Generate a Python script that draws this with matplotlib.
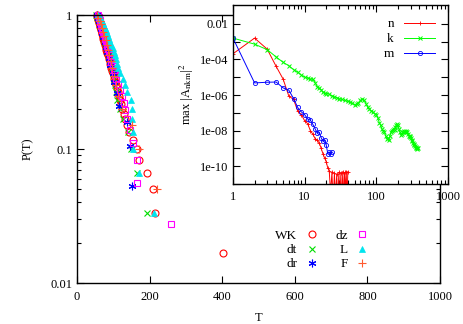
import matplotlib
matplotlib.use('Agg')
import matplotlib.pyplot as plt
import numpy as np
from matplotlib.ticker import FixedLocator, NullFormatter, FixedFormatter, LogLocator

plt.rcParams['font.family'] = ['Liberation Serif', 'DejaVu Serif']
plt.rcParams['mathtext.fontset'] = 'stix'
plt.rcParams['font.size'] = 9

# ---------------- main panel data: event durations T (sorted) ----------------
T_WK = [55, 56, 57, 57, 58, 59, 60, 60, 61, 62, 63, 64, 65, 66, 67, 68, 69, 70, 71, 72,
        73, 74, 75, 76, 77, 79, 80, 81, 82, 84, 85, 87, 88, 90, 91, 93, 95, 97, 99, 101,
        103, 105, 107, 110, 112, 115, 118, 121, 125, 129, 133, 137, 143, 155, 166, 170,
        193, 210, 214, 401]
T_dt = [52, 55, 57, 60, 62, 64, 66, 69, 71, 73, 75, 78, 80, 83, 86, 88, 91, 94, 97, 100,
        102, 105, 108, 109, 118, 127, 141, 150, 165, 194]
T_dr = [54, 57, 60, 63, 66, 69, 72, 76, 80, 84, 87, 92, 98, 103, 109, 115, 138, 147, 151]
T_dz = [58, 60, 61, 63, 64, 66, 67, 69, 70, 72, 74, 76, 78, 80, 82, 84, 86, 88, 90, 93,
        95, 98, 101, 104, 108, 113, 118, 124, 130, 133, 137, 146, 153, 164, 165, 258]
T_L = [58, 62, 65, 68, 71, 74, 77, 80, 83, 86, 89, 92, 95, 98, 101, 104, 107, 110, 114,
       118, 127, 133, 139, 148, 151, 152, 154, 155, 171, 211]
T_F = [56, 59, 62, 65, 68, 72, 75, 79, 82, 86, 89, 93, 97, 102, 107, 114, 123, 151, 171, 221]

series_names = ['WK', 'dt', 'dr', 'dz', 'L', 'F']
series_T = [T_WK, T_dt, T_dr, T_dz, T_L, T_F]

# ---------------- inset data ----------------
n_x = list(range(1, 41))
n_logy = [-3.68, -2.80, -3.42, -4.39, -5.10, -6.05, -6.25, -6.90, -7.10, -7.45,
          -7.60, -8.00, -8.20, -8.45, -8.55, -8.70, -9.00, -9.30, -9.55, -9.75,
          -10.10, -10.25, -11.5, -10.35, -12.0, -10.40, -11.8, -10.45, -12.0, -10.35,
          -12.0, -10.40, -12.0, -10.30, -12.0, -10.35, -11.5, -10.30, -12.0, -10.30]

k_x = [1, 2, 3, 4, 5, 6, 7, 8, 9, 10, 11, 12, 13, 14, 15, 16, 17, 18, 19, 20,
       22, 24, 26, 28, 30, 33, 36, 40, 43, 46, 50, 53, 56, 60, 64, 68, 72, 76, 80, 85,
       90, 95, 100, 105, 110, 115, 120, 125, 130, 135, 140, 145, 150, 155, 160, 165, 170,
       175, 180, 185, 190, 195, 200, 207, 214, 221, 228, 235, 242, 249, 256, 263, 270,
       277, 284, 291, 298, 305, 312, 319, 326, 333, 340, 347, 354, 361, 368, 375, 382]
k_logy = [-2.80, -3.14, -3.45, -3.86, -4.16, -4.35, -4.57, -4.72, -4.88, -5.00,
          -5.05, -5.10, -5.12, -5.30, -5.54, -5.60, -5.70, -5.85, -5.90, -5.92,
          -5.95, -6.05, -6.10, -6.15, -6.20, -6.25, -6.30, -6.35, -6.40, -6.45,
          -6.55, -6.50, -6.45, -6.30, -6.25, -6.30, -6.50, -6.70, -6.80, -6.90,
          -6.95, -7.05, -7.10, -7.30, -7.55, -7.70, -7.90, -8.00, -8.10, -8.30,
          -8.45, -8.40, -8.50, -8.30, -8.10, -8.00, -7.95, -7.90, -7.95, -7.80,
          -7.70, -7.65, -7.70, -7.90, -8.10, -8.25, -8.20, -8.05, -8.00, -8.10,
          -8.10, -8.00, -8.05, -8.20, -8.30, -8.35, -8.30, -8.40, -8.55, -8.60,
          -8.70, -8.80, -8.75, -8.85, -8.95, -8.90, -9.00, -9.05, -9.00]

m_x = list(range(1, 25))
m_logy = [-2.80, -5.32, -5.28, -5.27, -5.60, -5.72, -6.20, -6.70, -6.95, -7.10,
          -7.35, -7.40, -7.65, -7.90, -8.15, -8.10, -8.40, -8.60, -8.55, -8.80,
          -9.30, -9.20, -9.30, -9.20]

# ---------------- figure ----------------
fig = plt.figure(figsize=(4.63, 3.24), dpi=100)
ax = fig.add_axes([77/463, 1-283/324, (440-77)/463, (283-15)/324])

styles = {
    'WK': dict(marker='o', color='#ff0000', mfc='none', ms=5, mew=0.8),
    'dt': dict(marker='x', color='#00dd00', ms=5, mew=0.8),
    'dr': dict(marker=(6, 2, 0), color='#0000ff', ms=5.5, mew=0.8),
    'dz': dict(marker='s', color='#ff00ff', mfc='none', ms=5, mew=0.8),
    'L':  dict(marker='^', color='#00e5ee', ms=4.5, mew=0.5),
    'F':  dict(marker='+', color='#ff5a30', ms=6, mew=0.8),
}
for name, T in zip(series_names, series_T):
    N = len(T)
    P = [(N - i) / N for i in range(N)]
    ax.plot(T, P, linestyle='none', label=name, clip_on=False, **styles[name])

ax.set_yscale('log')
ax.set_xlim(0, 1000)
ax.set_ylim(0.01, 1)
ax.set_xticks([0, 200, 400, 600, 800, 1000])
ax.set_yticks([0.01, 0.1, 1])
ax.set_yticklabels(['0.01', '0.1', '1'])
ax.yaxis.set_minor_locator(LogLocator(base=10, subs=np.arange(2, 10)))
ax.yaxis.set_minor_formatter(NullFormatter())
ax.tick_params(which='both', direction='in', top=True, right=True)
ax.tick_params(which='major', length=5, width=0.8)
ax.tick_params(which='minor', length=3, width=0.8)
ax.tick_params(axis='x', pad=6)
for s in ax.spines.values():
    s.set_linewidth(1.0)
ax.set_xlabel('T', labelpad=6)
ax.set_ylabel('P(T)', labelpad=12)

leg = ax.legend(ncol=2, markerfirst=False, frameon=False, loc='center',
                bbox_to_anchor=(322/463, 1-250/324), bbox_transform=fig.transFigure,
                handlelength=1.0, handletextpad=0.6, columnspacing=1.3,
                labelspacing=0.15, borderpad=0.2, fontsize=9.5)
for t in leg.get_texts():
    t.set_ha('right')

# ---------------- inset ----------------
ins = fig.add_axes([233/463, 1-184/324, (448-233)/463, (184-5)/324])
ins.set_facecolor('white')
ins.plot(n_x, [10**v for v in n_logy], color='#ff0000', lw=0.7, marker='+', ms=3, mew=0.6, label='n')
ins.plot(k_x, [10**v for v in k_logy], color='#00ff00', lw=0.7, marker='x', ms=3.5, mew=0.7, label='k')
ins.plot(m_x, [10**v for v in m_logy], color='#0000ff', lw=0.7, marker='o', mfc='none', ms=3, mew=0.6, label='m')
ins.set_xscale('log')
ins.set_yscale('log')
ins.set_xlim(1, 1000)
ins.set_ylim(1e-11, 10**-0.94)
ins.xaxis.set_major_locator(FixedLocator([1, 10, 100, 1000]))
ins.xaxis.set_major_formatter(FixedFormatter(['1', '10', '100', '1000']))
ins.xaxis.set_minor_locator(LogLocator(base=10, subs=np.arange(2, 10)))
ins.xaxis.set_minor_formatter(NullFormatter())
yt = [10.0**e for e in range(-11, -1)]
ins.yaxis.set_major_locator(FixedLocator(yt))
labs = {-2: '0.01', -4: '1e-04', -6: '1e-06', -8: '1e-08', -10: '1e-10'}
ins.yaxis.set_major_formatter(FixedFormatter([labs.get(e, '') for e in range(-11, -1)]))
ins.yaxis.set_minor_locator(FixedLocator([]))
ins.tick_params(which='both', direction='in', top=True, right=True, labelsize=9)
ins.tick_params(which='major', length=5, width=0.8)
ins.tick_params(which='minor', length=3, width=0.8)
ins.tick_params(axis='x', pad=5)
for s in ins.spines.values():
    s.set_linewidth(1.0)
ins.set_ylabel('max |A$_{\\mathrm{nkm}}$|$^2$', labelpad=3)
il = ins.legend(loc='upper right', markerfirst=False, frameon=False,
                handlelength=2.3, handletextpad=0.8, labelspacing=0.2,
                borderaxespad=0.6, fontsize=9.5)
for t in il.get_texts():
    t.set_ha('right')

fig.savefig('out.png', dpi=100)
